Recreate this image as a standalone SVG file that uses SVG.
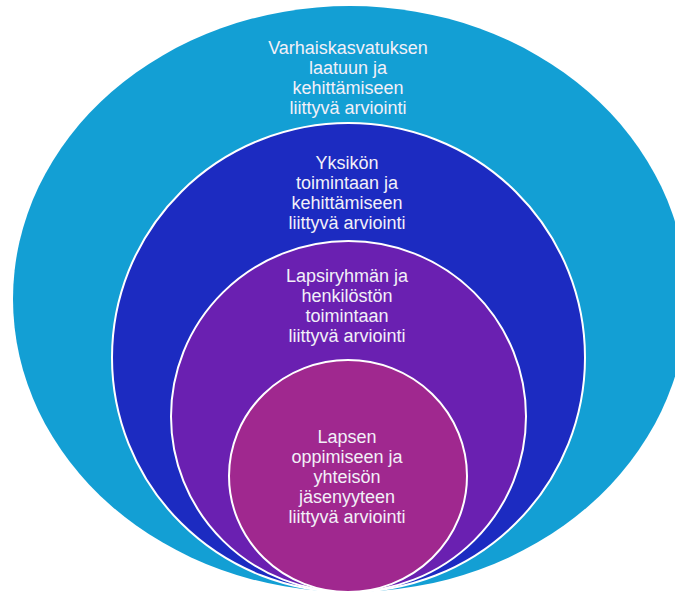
<svg xmlns="http://www.w3.org/2000/svg" width="675" height="597" viewBox="0 0 675 597">
<style>
.lbl{font-family:"Liberation Sans",Arial,sans-serif;font-size:18px;fill:#f2f0f8;text-anchor:middle}
.ring{stroke:#ffffff;stroke-width:2}
</style>
<rect width="675" height="597" fill="#ffffff"/>
<g id="outer">
<ellipse cx="350" cy="299" rx="337" ry="293" fill="#139fd4"/>
<text class="lbl" x="348" y="54">Varhaiskasvatuksen</text>
<text class="lbl" x="348" y="74">laatuun ja</text>
<text class="lbl" x="348" y="94">kehittämiseen</text>
<text class="lbl" x="348" y="114">liittyvä arviointi</text>
</g>
<g id="unit">
<ellipse class="ring" cx="348.5" cy="357.5" rx="236.5" ry="234.5" fill="#1c2bc1"/>
<text class="lbl" x="347" y="169">Yksikön</text>
<text class="lbl" x="347" y="189">toimintaan ja</text>
<text class="lbl" x="347" y="209">kehittämiseen</text>
<text class="lbl" x="347" y="229">liittyvä arviointi</text>
</g>
<g id="group">
<ellipse class="ring" cx="348.5" cy="416.5" rx="177.5" ry="175.5" fill="#6a20b1"/>
<text class="lbl" x="347" y="282">Lapsiryhmän ja</text>
<text class="lbl" x="347" y="302">henkilöstön</text>
<text class="lbl" x="347" y="322">toimintaan</text>
<text class="lbl" x="347" y="342">liittyvä arviointi</text>
</g>
<g id="child">
<ellipse class="ring" cx="348" cy="476" rx="119" ry="116" fill="#a0288f"/>
<text class="lbl" x="347" y="443">Lapsen</text>
<text class="lbl" x="347" y="463">oppimiseen ja</text>
<text class="lbl" x="347" y="483">yhteisön</text>
<text class="lbl" x="347" y="503">jäsenyyteen</text>
<text class="lbl" x="347" y="523">liittyvä arviointi</text>
</g>
<g id="connectors"></g>
</svg>
